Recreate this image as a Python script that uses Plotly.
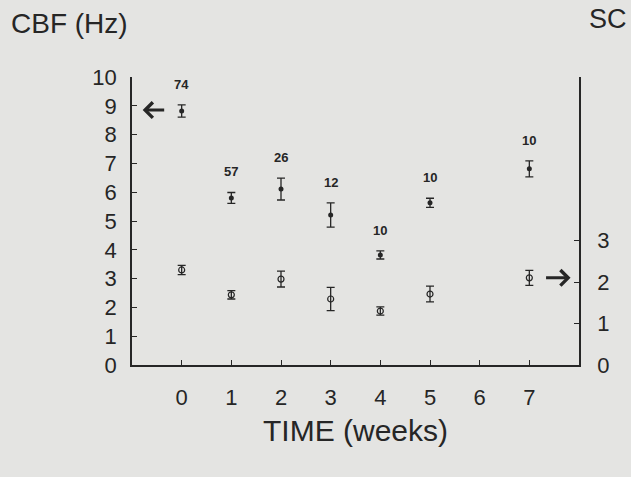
import plotly.graph_objects as go

weeks = [0, 1, 2, 3, 4, 5, 7]
cbf_mean = [8.82, 5.80, 6.11, 5.21, 3.82, 5.63, 6.81]
cbf_err = [0.21, 0.19, 0.38, 0.42, 0.14, 0.16, 0.28]
n_labels = ["74", "57", "26", "12", "10", "10", "10"]
sc_mean = [2.29, 1.69, 2.07, 1.59, 1.30, 1.71, 2.10]
sc_err = [0.11, 0.10, 0.19, 0.28, 0.10, 0.19, 0.18]
cbf_ref = 8.85
sc_ref = 2.10
left_ticks = list(range(0, 11))
right_ticks = [0, 1, 2, 3]
x_ticks = [0, 1, 2, 3, 4, 5, 6, 7]

ink = "#262626"
bg = "#e4e4e2"
font = "Liberation Sans, Arial, sans-serif"

fig = go.Figure()
fig.add_trace(go.Scatter(
    x=weeks, y=cbf_mean, mode="markers",
    marker=dict(symbol="circle", size=5, color=ink),
    error_y=dict(type="data", array=cbf_err, color=ink, thickness=1.3, width=4),
    showlegend=False, yaxis="y"))
fig.add_trace(go.Scatter(
    x=weeks, y=sc_mean, mode="markers",
    marker=dict(symbol="circle-open", size=6, color=ink, line=dict(width=1.2, color=ink)),
    error_y=dict(type="data", array=sc_err, color=ink, thickness=1.3, width=4),
    showlegend=False, yaxis="y2"))

for w, m, e, t in zip(weeks, cbf_mean, cbf_err, n_labels):
    fig.add_annotation(x=w, y=m + e, xref="x", yref="y", text="<b>" + t + "</b>",
                       showarrow=False, yanchor="bottom", yshift=11,
                       font=dict(family=font, size=13, color=ink))

fig.add_annotation(x=-0.785, y=cbf_ref, xref="x", yref="y", ax=23, ay=0,
                   showarrow=True, arrowhead=4, arrowsize=1.0, arrowwidth=3,
                   arrowcolor=ink, text="")
fig.add_annotation(x=7.83, y=sc_ref, xref="x", yref="y2", ax=-26, ay=0,
                   showarrow=True, arrowhead=4, arrowsize=1.0, arrowwidth=3,
                   arrowcolor=ink, text="")

fig.add_annotation(x=-0.275, y=1.1875, xref="paper", yref="paper", text="CBF (Hz)",
                   showarrow=False, xanchor="left", yanchor="middle",
                   font=dict(family=font, size=28, color=ink))
fig.add_annotation(x=1.018, y=1.201, xref="paper", yref="paper", text="SC",
                   showarrow=False, xanchor="left", yanchor="middle",
                   font=dict(family=font, size=27, color=ink))
fig.add_annotation(x=0.5, y=-0.226, xref="paper", yref="paper", text="TIME (weeks)",
                   showarrow=False, xanchor="center", yanchor="middle",
                   font=dict(family=font, size=30, color=ink))

axis_common = dict(showline=True, linecolor=ink, linewidth=1.5, ticks="inside",
                   ticklen=5, tickwidth=1.3, tickcolor=ink, showgrid=False,
                   zeroline=False, tickfont=dict(family=font, size=22, color=ink))

fig.update_layout(
    width=631, height=477,
    margin=dict(l=132, r=52, t=77, b=112),
    paper_bgcolor=bg, plot_bgcolor=bg,
    xaxis=dict(range=[-1, 8], tickvals=x_ticks, ticklabelstandoff=12, **axis_common),
    yaxis=dict(range=[0, 10], tickvals=left_ticks, ticklabelstandoff=9, **axis_common),
    yaxis2=dict(range=[0, 6.94], tickvals=right_ticks, overlaying="y", side="right",
                ticklabelstandoff=12, **axis_common),
)

fig.write_html("out.html", config={"displayModeBar": False},
               post_script="document.body.style.margin='0';")
